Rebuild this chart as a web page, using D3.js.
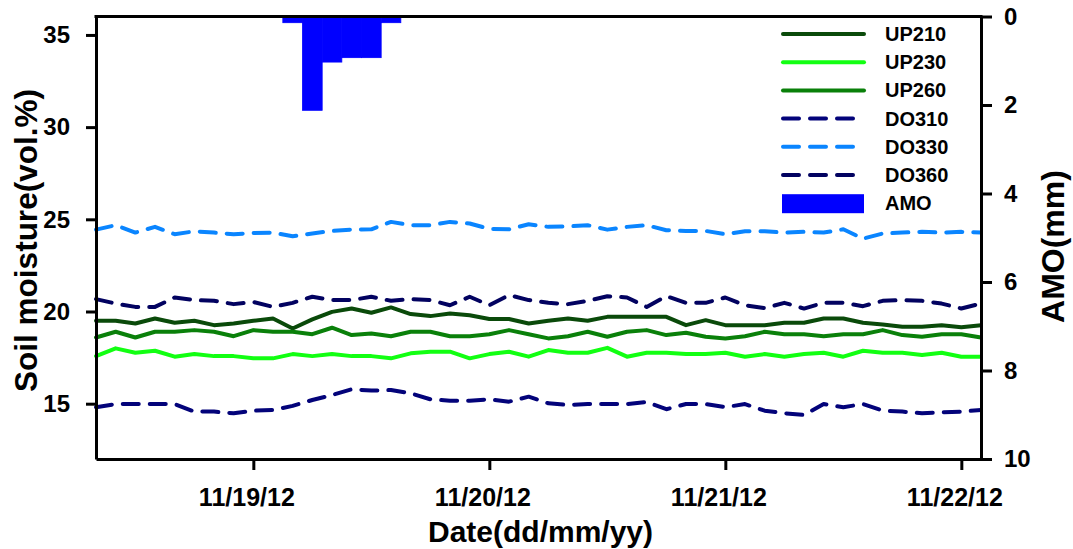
<!DOCTYPE html>
<html>
<head>
<meta charset="utf-8">
<script src="https://cdn.jsdelivr.net/npm/d3@7"></script>
<style>
  html, body { margin: 0; padding: 0; background: #fff; }
  svg { display: block; font-family: "Liberation Sans", Arial, sans-serif; font-weight: bold; }
</style>
</head>
<body>
<svg id="chart" width="1073" height="549"></svg>
<script>
// Two-hourly readings, starting 18 Nov 2012 08:00
const startTime = new Date(2012, 10, 18, 8, 0);
const stepHours = 2;

// Soil moisture (vol.%) per sensor
const UP210 = [19.50, 19.50, 19.35, 19.62, 19.39, 19.50, 19.26, 19.35, 19.50, 19.62,
               19.08, 19.57, 19.98, 20.16, 19.93, 20.22, 19.86, 19.75, 19.89, 19.80,
               19.59, 19.59, 19.35, 19.50, 19.62, 19.50, 19.71, 19.71, 19.71, 19.71,
               19.26, 19.53, 19.26, 19.26, 19.26, 19.39, 19.39, 19.62, 19.62, 19.39,
               19.30, 19.17, 19.17, 19.26, 19.14, 19.26];
const UP230 = [17.58, 18.00, 17.76, 17.87, 17.55, 17.69, 17.58, 17.58, 17.46, 17.46,
               17.69, 17.58, 17.69, 17.58, 17.58, 17.46, 17.73, 17.82, 17.82, 17.46,
               17.69, 17.82, 17.55, 17.91, 17.76, 17.76, 18.03, 17.55, 17.76, 17.76,
               17.69, 17.69, 17.76, 17.55, 17.69, 17.55, 17.69, 17.76, 17.55, 17.87,
               17.76, 17.76, 17.64, 17.76, 17.55, 17.55];
const UP260 = [18.59, 18.90, 18.59, 18.90, 18.90, 18.99, 18.90, 18.66, 18.99, 18.90,
               18.90, 18.77, 19.12, 18.72, 18.81, 18.66, 18.90, 18.90, 18.66, 18.66,
               18.77, 18.99, 18.77, 18.54, 18.66, 18.90, 18.63, 18.90, 18.99, 18.72,
               18.85, 18.63, 18.54, 18.66, 18.90, 18.77, 18.77, 18.66, 18.77, 18.77,
               18.99, 18.72, 18.63, 18.77, 18.77, 18.59];
const DO310 = [14.81, 14.98, 14.98, 14.98, 14.98, 14.57, 14.57, 14.48, 14.62, 14.66,
               14.88, 15.20, 15.47, 15.78, 15.71, 15.74, 15.56, 15.24, 15.16, 15.16,
               15.24, 15.11, 15.38, 15.02, 14.93, 14.98, 14.98, 14.98, 15.09, 14.70,
               14.98, 14.98, 14.81, 14.98, 14.62, 14.48, 14.39, 14.98, 14.81, 14.98,
               14.62, 14.57, 14.48, 14.53, 14.57, 14.66];
const DO330 = [24.44, 24.68, 24.28, 24.59, 24.19, 24.35, 24.28, 24.19, 24.26, 24.28,
               24.08, 24.23, 24.37, 24.44, 24.46, 24.86, 24.68, 24.68, 24.86, 24.77,
               24.48, 24.46, 24.73, 24.59, 24.62, 24.68, 24.44, 24.59, 24.68, 24.41,
               24.37, 24.37, 24.19, 24.35, 24.35, 24.28, 24.32, 24.28, 24.46, 23.95,
               24.23, 24.28, 24.32, 24.28, 24.32, 24.28];
const DO360 = [20.67, 20.43, 20.25, 20.25, 20.76, 20.62, 20.58, 20.40, 20.52, 20.25,
               20.47, 20.80, 20.62, 20.62, 20.80, 20.58, 20.67, 20.62, 20.34, 20.80,
               20.34, 20.89, 20.62, 20.47, 20.40, 20.58, 20.83, 20.76, 20.25, 20.83,
               20.47, 20.47, 20.76, 20.34, 20.18, 20.47, 20.16, 20.47, 20.47, 20.29,
               20.58, 20.62, 20.58, 20.43, 20.16, 20.43];

// Rainfall (AMO, mm) in two-hour bins, given by bin centre
const rainTimes = ["2012-11-19T04:00", "2012-11-19T06:00", "2012-11-19T08:00",
                   "2012-11-19T10:00", "2012-11-19T12:00", "2012-11-19T14:00"];
const rainValues = [0.14, 2.12, 1.03, 0.93, 0.93, 0.14];

// Axis ticks
const leftTicks = [15, 20, 25, 30, 35];
const rightTicks = [0, 2, 4, 6, 8, 10];
const dateTicks = ["2012-11-19", "2012-11-20", "2012-11-21", "2012-11-22"];

const seriesNames = ["UP210", "UP230", "UP260", "DO310", "DO330", "DO360"];
const seriesValues = [UP210, UP230, UP260, DO310, DO330, DO360];
const seriesColors = ["#0a4a0a", "#12ff12", "#0a800a", "#03037a", "#0a85ff", "#020260"];
const seriesDashed = [false, false, false, true, true, true];
const rainColor = "#0000ff";

const parseHour = d3.timeParse("%Y-%m-%dT%H:%M");
const parseDay = d3.timeParse("%Y-%m-%d");
const fmtDay = d3.timeFormat("%m/%d/%y");

const svg = d3.select("#chart");
const plotL = 96, plotR = 981, plotT = 16.5, plotB = 459;

const x = d3.scaleTime()
  .domain([startTime, new Date(2012, 10, 22, 2, 0)])
  .range([plotL, plotR]);
const y = d3.scaleLinear().domain([12, 36]).range([plotB, plotT]);
const yRain = d3.scaleLinear().domain([0, 10]).range([plotT, plotB]);

const times = UP210.map((_, i) => d3.timeHour.offset(startTime, i * stepHours));

// Rain bars hang from the top axis
const binStart = i => x(d3.timeHour.offset(parseHour(rainTimes[i]), -1));
const binEnd = i => x(d3.timeHour.offset(parseHour(rainTimes[i]), 1));
svg.append("g").selectAll("rect")
  .data(rainValues)
  .join("rect")
  .attr("x", (d, i) => binStart(i))
  .attr("width", (d, i) => binEnd(i) - binStart(i))
  .attr("y", yRain(0))
  .attr("height", d => yRain(d) - yRain(0))
  .attr("fill", rainColor)
  .attr("stroke", rainColor)
  .attr("stroke-width", 0.8);

// Soil moisture lines
const line = d3.line()
  .x((d, i) => x(times[i]))
  .y(d => y(d));

svg.append("g").selectAll("path")
  .data(seriesValues)
  .join("path")
  .attr("d", d => line(d))
  .attr("fill", "none")
  .attr("stroke", (d, i) => seriesColors[i])
  .attr("stroke-width", 4)
  .attr("stroke-linejoin", "round")
  .attr("stroke-linecap", "round")
  .attr("stroke-dasharray", (d, i) => seriesDashed[i] ? "16,11" : null);

// Axes
function styleAxis(g, fontSize) {
  g.select(".domain").attr("stroke", "#000").attr("stroke-width", 3);
  g.selectAll(".tick line").attr("stroke", "#000").attr("stroke-width", 3);
  g.selectAll(".tick text")
    .attr("fill", "#000")
    .style("font-family", "'Liberation Sans', Arial, sans-serif")
    .style("font-weight", "bold")
    .style("font-size", fontSize + "px");
}

svg.append("g")
  .attr("transform", `translate(${plotL},0)`)
  .call(d3.axisLeft(y).tickValues(leftTicks).tickSize(10).tickSizeOuter(0).tickPadding(16))
  .call(g => styleAxis(g, 24));

svg.append("g")
  .attr("transform", `translate(${plotR},0)`)
  .call(d3.axisRight(yRain).tickValues(rightTicks).tickSize(11).tickSizeOuter(0).tickPadding(12))
  .call(g => styleAxis(g, 24));

svg.append("g")
  .attr("transform", `translate(0,${plotB})`)
  .call(d3.axisBottom(x).tickValues(dateTicks.map(parseDay)).tickFormat(fmtDay)
        .tickSize(11).tickSizeOuter(0).tickPadding(18))
  .call(g => styleAxis(g, 25))
  .call(g => g.selectAll(".tick text").attr("dx", -7));

// Top frame line
svg.append("line")
  .attr("x1", plotL - 1.5).attr("x2", plotR + 1.5)
  .attr("y1", plotT).attr("y2", plotT)
  .attr("stroke", "#000").attr("stroke-width", 3);

// Axis titles
svg.append("text")
  .attr("transform", "translate(37,240.5) rotate(-90)")
  .attr("text-anchor", "middle")
  .style("font-size", "31.5px")
  .text("Soil moisture(vol.%)");

svg.append("text")
  .attr("transform", "translate(1064,246.5) rotate(-90)")
  .attr("text-anchor", "middle")
  .style("font-size", "32px")
  .text("AMO(mm)");

svg.append("text")
  .attr("x", 540.5)
  .attr("y", 542)
  .attr("text-anchor", "middle")
  .style("font-size", "30px")
  .text("Date(dd/mm/yy)");

// Legend
const legend = svg.append("g").attr("transform", "translate(783,34)");
const rowH = 28.2;
seriesNames.forEach((name, i) => {
  const row = legend.append("g").attr("transform", `translate(0,${i * rowH})`);
  row.append("line")
    .attr("x1", 0).attr("x2", seriesDashed[i] ? 70 : 81)
    .attr("y1", 0).attr("y2", 0)
    .attr("stroke", seriesColors[i])
    .attr("stroke-width", 4)
    .attr("stroke-linecap", "round")
    .attr("stroke-dasharray", seriesDashed[i] ? "16,11" : null);
  row.append("text")
    .attr("x", 102).attr("y", 7)
    .style("font-size", "20px")
    .text(name);
});
const amoRow = legend.append("g").attr("transform", `translate(0,${6 * rowH})`);
amoRow.append("rect")
  .attr("x", -1).attr("y", -9).attr("width", 82).attr("height", 19)
  .attr("fill", rainColor);
amoRow.append("text")
  .attr("x", 102).attr("y", 7)
  .style("font-size", "20px")
  .text("AMO");
</script>
</body>
</html>
